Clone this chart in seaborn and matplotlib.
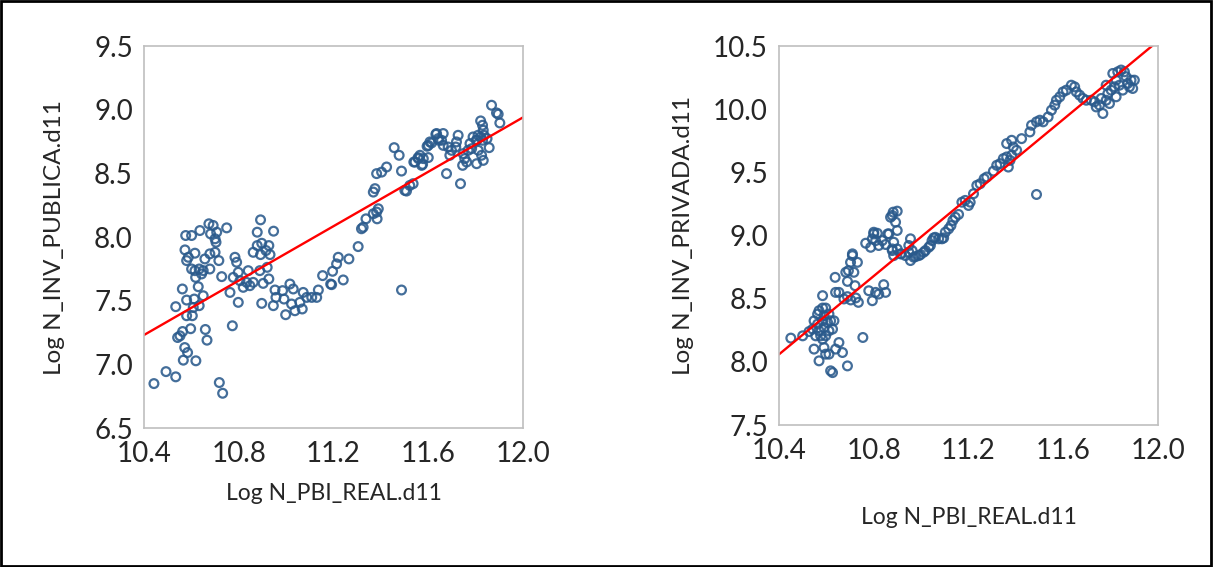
import numpy as np
import pandas as pd
import seaborn as sns
import matplotlib.pyplot as plt
from matplotlib.patches import Rectangle

# Log PBI real vs log inversion publica (left panel)
pub_x = [10.442, 10.493, 10.534, 10.718, 10.732, 10.566, 10.619, 10.584, 10.572, 10.542,
         10.552, 10.563, 10.597, 10.659, 10.666, 10.773, 10.534, 10.580, 10.580, 10.604,
         10.608, 10.612, 10.633, 10.650, 10.562, 10.629, 10.618, 10.601, 10.615, 10.633,
         10.650, 10.678, 10.643, 10.573, 10.580, 10.615, 10.587, 10.657, 10.678, 10.700,
         10.716, 10.576, 10.601, 10.636, 10.674, 10.692, 10.681, 10.707, 10.704, 10.700,
         10.749, 10.728, 10.784, 10.791, 10.777, 10.798, 10.763, 10.805, 10.798, 10.819,
         10.833, 10.840, 10.847, 10.861, 10.892, 10.878, 10.947, 10.861, 10.878, 10.897,
         10.915, 10.927, 10.932, 10.892, 10.920, 10.889, 10.927, 10.903, 10.897, 10.953,
         10.957, 10.985, 10.991, 10.946, 11.016, 11.030, 10.998, 11.023, 11.037, 11.058,
         11.068, 11.072, 11.087, 11.108, 11.129, 11.136, 11.154, 11.188, 11.196, 11.213,
         11.220, 11.241, 11.265, 11.304, 11.318, 11.325, 11.337, 11.368, 11.382, 11.389,
         11.384, 11.368, 11.375, 11.382, 11.403, 11.424, 11.456, 11.477, 11.487, 11.487,
         11.501, 11.508, 11.522, 11.536, 11.539, 11.557, 11.576, 11.579, 11.600, 11.600,
         11.614, 11.635, 11.645, 11.867, 11.888, 11.895, 11.902, 11.821, 11.829, 11.832,
         11.835, 11.821, 11.810, 11.804, 11.829, 11.848, 11.857, 11.803, 11.789, 11.776,
         11.768, 11.783, 11.811, 11.825, 11.832, 11.804, 11.747, 11.754, 11.745, 11.762,
         11.736, 11.726, 11.719, 11.716, 11.677, 11.691, 11.698, 11.684, 11.663, 11.656,
         11.663, 11.632, 11.642, 11.607, 11.595, 11.565, 11.558, 11.544, 11.572, 11.192]
pub_y = [6.849, 6.943, 6.902, 6.857, 6.773, 7.033, 7.028, 7.093, 7.132, 7.211,
         7.224, 7.258, 7.280, 7.274, 7.190, 7.303, 7.453, 7.505, 7.382, 7.382,
         7.447, 7.513, 7.461, 7.539, 7.592, 7.610, 7.683, 7.749, 7.736, 7.749,
         7.736, 7.749, 7.710, 7.899, 7.815, 7.873, 7.841, 7.828, 7.868, 7.880,
         7.815, 8.012, 8.012, 8.051, 8.104, 8.091, 8.025, 8.038, 7.959, 7.986,
         8.072, 7.689, 7.841, 7.802, 7.683, 7.723, 7.565, 7.657, 7.487, 7.605,
         7.644, 7.736, 7.618, 7.644, 8.135, 8.038, 8.046, 7.880, 7.933, 7.951,
         7.894, 7.933, 7.862, 7.862, 7.762, 7.736, 7.671, 7.636, 7.479, 7.584,
         7.526, 7.579, 7.513, 7.461, 7.631, 7.592, 7.390, 7.474, 7.421, 7.487,
         7.435, 7.565, 7.526, 7.526, 7.526, 7.584, 7.697, 7.631, 7.731, 7.789,
         7.841, 7.663, 7.828, 7.925, 8.065, 8.077, 8.143, 8.183, 8.196, 8.222,
         8.143, 8.353, 8.380, 8.498, 8.510, 8.550, 8.702, 8.642, 8.518, 7.584,
         8.366, 8.361, 8.405, 8.419, 8.589, 8.624, 8.571, 8.616, 8.624, 8.720,
         8.739, 8.813, 8.760, 9.035, 8.975, 8.965, 8.896, 8.912, 8.878, 8.839,
         8.799, 8.786, 8.799, 8.760, 8.760, 8.773, 8.702, 8.760, 8.786, 8.734,
         8.681, 8.694, 8.681, 8.642, 8.602, 8.576, 8.655, 8.616, 8.563, 8.589,
         8.419, 8.799, 8.747, 8.707, 8.498, 8.642, 8.681, 8.707, 8.813, 8.760,
         8.720, 8.807, 8.773, 8.747, 8.713, 8.642, 8.616, 8.589, 8.563, 7.626]

# Log PBI real vs log inversion privada (right panel)
priv_x = [10.450, 10.500, 10.527, 10.542, 10.548, 10.548, 10.555, 10.563, 10.563, 10.569,
          10.569, 10.569, 10.576, 10.584, 10.584, 10.584, 10.584, 10.590, 10.590, 10.590,
          10.597, 10.597, 10.597, 10.605, 10.611, 10.611, 10.611, 10.618, 10.618, 10.626,
          10.626, 10.632, 10.637, 10.639, 10.639, 10.653, 10.653, 10.668, 10.674, 10.682,
          10.689, 10.689, 10.689, 10.693, 10.702, 10.703, 10.710, 10.710, 10.716, 10.721,
          10.724, 10.731, 10.735, 10.754, 10.766, 10.779, 10.787, 10.794, 10.794, 10.800,
          10.800, 10.808, 10.808, 10.815, 10.821, 10.821, 10.836, 10.842, 10.850, 10.850,
          10.859, 10.864, 10.871, 10.878, 10.878, 10.878, 10.882, 10.884, 10.884, 10.892,
          10.899, 10.899, 10.899, 10.913, 10.917, 10.934, 10.948, 10.948, 10.955, 10.955,
          10.962, 10.969, 10.976, 10.990, 10.997, 11.011, 11.018, 11.032, 11.039, 11.046,
          11.053, 11.060, 11.074, 11.088, 11.095, 11.102, 11.116, 11.126, 11.134, 11.144,
          11.158, 11.172, 11.186, 11.200, 11.207, 11.221, 11.235, 11.249, 11.266, 11.277,
          11.305, 11.319, 11.333, 11.347, 11.361, 11.361, 11.368, 11.375, 11.382, 11.382,
          11.389, 11.403, 11.424, 11.459, 11.466, 11.487, 11.487, 11.501, 11.515, 11.536,
          11.550, 11.564, 11.571, 11.585, 11.599, 11.613, 11.634, 11.648, 11.655, 11.669,
          11.683, 11.697, 11.718, 11.732, 11.739, 11.753, 11.760, 11.767, 11.781, 11.781,
          11.788, 11.795, 11.802, 11.809, 11.816, 11.823, 11.823, 11.830, 11.837, 11.844,
          11.851, 11.858, 11.865, 11.872, 11.879, 11.886, 11.893, 11.900]
priv_y = [8.188, 8.206, 8.240, 8.259, 8.325, 8.101, 8.206, 8.378, 8.299, 8.405,
          8.246, 8.008, 8.206, 8.426, 8.325, 8.180, 8.524, 8.365, 8.272, 8.113,
          8.426, 8.206, 8.061, 8.312, 8.378, 8.246, 8.061, 8.325, 7.929, 8.259,
          7.915, 8.325, 8.669, 8.550, 8.101, 8.550, 8.153, 8.074, 8.498, 8.709,
          8.637, 8.516, 7.968, 8.722, 8.788, 8.490, 8.841, 8.855, 8.709, 8.603,
          8.506, 8.788, 8.471, 8.193, 8.939, 8.563, 8.907, 8.484, 8.974, 9.013,
          9.026, 8.550, 8.960, 9.018, 8.537, 8.921, 8.960, 8.611, 8.550, 8.929,
          9.013, 9.013, 9.145, 9.159, 8.881, 8.894, 9.185, 8.947, 8.841, 9.106,
          9.193, 9.040, 8.894, 8.855, 8.855, 8.841, 8.868, 8.921, 8.974, 8.802,
          8.881, 8.828, 8.833, 8.841, 8.849, 8.868, 8.881, 8.907, 8.921, 8.960,
          8.981, 8.986, 8.974, 8.974, 8.981, 9.026, 9.053, 9.079, 9.119, 9.145,
          9.167, 9.264, 9.278, 9.238, 9.264, 9.331, 9.397, 9.410, 9.450, 9.463,
          9.510, 9.556, 9.569, 9.609, 9.622, 9.728, 9.542, 9.595, 9.635, 9.754,
          9.701, 9.675, 9.767, 9.820, 9.873, 9.900, 9.325, 9.913, 9.900, 9.939,
          9.992, 10.032, 10.071, 10.098, 10.137, 10.151, 10.190, 10.177, 10.137, 10.111,
          10.085, 10.071, 10.071, 10.058, 10.018, 10.032, 10.085, 9.966, 10.071, 10.190,
          10.124, 10.045, 10.151, 10.283, 10.177, 10.230, 10.098, 10.296, 10.190, 10.310,
          10.151, 10.296, 10.257, 10.204, 10.177, 10.230, 10.164, 10.230]

x_ticks = [10.4, 10.8, 11.2, 11.6, 12.0]
x_label = "Log N_PBI_REAL.d11"

panels = [
    dict(x=pub_x, y=pub_y, ylabel="Log N_INV_PUBLICA.d11", ylim=(6.5, 9.5),
         rect=[0.1187, 0.2451, 0.3125, 0.6737], xpad=12, ypad=21),
    dict(x=priv_x, y=priv_y, ylabel="Log N_INV_PRIVADA.d11", ylim=(7.5, 10.5),
         rect=[0.6422, 0.2504, 0.3125, 0.6684], xpad=31, ypad=14),
]

sns.set_style("white")
plt.rcParams['font.family'] = ['Lato', 'DejaVu Sans']

fig = plt.figure(figsize=(12.13, 5.67), dpi=100)

for p in panels:
    ax = fig.add_axes(p["rect"])
    df = pd.DataFrame({"x": p["x"], "y": p["y"]})
    ax.set_xlim(10.4, 12.0)
    ax.set_ylim(*p["ylim"])
    sns.regplot(data=df, x="x", y="y", ax=ax, ci=None, truncate=False,
                scatter_kws=dict(s=40, facecolors="none", edgecolors="#2A5A8C",
                                 linewidths=1.6, alpha=0.88),
                line_kws=dict(color="#FF0000", lw=1.7))
    ax.set_xlim(10.4, 12.0)
    ax.set_ylim(*p["ylim"])
    ax.set_xticks(x_ticks)
    ax.set_xticklabels([f"{t:.1f}" for t in x_ticks])
    yt = np.arange(p["ylim"][0], p["ylim"][1] + 0.01, 0.5)
    ax.set_yticks(yt)
    ax.set_yticklabels([f"{t:.1f}" for t in yt])
    ax.tick_params(axis="x", length=5, width=1, color="#BFBFBF", labelsize=20, pad=4)
    ax.tick_params(axis="y", length=0, labelsize=20, pad=8)
    for s in ax.spines.values():
        s.set_color("#BFBFBF")
        s.set_linewidth(1.2)
    ax.set_xlabel(x_label, fontsize=16.5, labelpad=p["xpad"])
    ax.set_ylabel(p["ylabel"], fontsize=17.5, labelpad=p["ypad"])

# black frame round the whole picture
fig.patches.append(Rectangle((0.001, 0.002), 0.997, 0.996, transform=fig.transFigure,
                             fill=False, edgecolor="black", linewidth=2))

plt.savefig("out.png", dpi=100)
